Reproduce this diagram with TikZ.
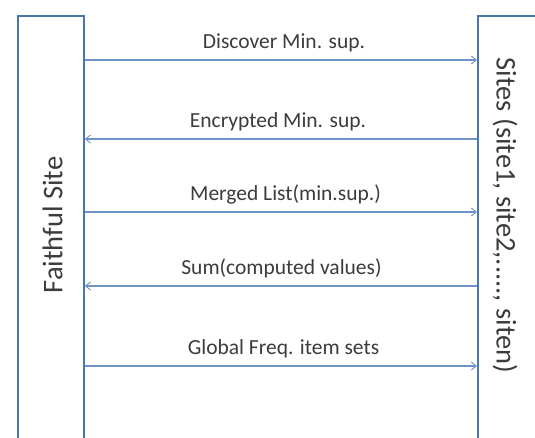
\documentclass[tikz,border=0pt]{standalone}
\usepackage{fontspec}
\setmainfont{Carlito}
\usetikzlibrary{arrows.meta}
\definecolor{boxblue}{HTML}{4A76B0}
\definecolor{arrblue}{HTML}{6E93C8}
\definecolor{txtgray}{HTML}{3C3C3C}
\tikzset{
  sitebox/.style={draw=boxblue, line width=1.8pt, fill=white, minimum width=66pt, minimum height=460pt, anchor=north west, inner sep=0pt},
  msg/.style={draw=arrblue, line width=1.1pt, -{Straight Barb[length=5pt,width=8pt,line width=0.9pt]}},
  msglabel/.style={text=txtgray, font=\fontsize{21.5}{24}\selectfont, inner sep=0pt, anchor=base},
  sidelabel/.style={text=txtgray, font=\fontsize{28.5}{32}\selectfont, inner sep=0pt}
}
\begin{document}
\begin{tikzpicture}[x=1pt,y=-1pt]
\useasboundingbox (0,0) rectangle (535,437);
\clip (0,0) rectangle (535,437);
\fill[white] (0,0) rectangle (535,437);
\node[sitebox] (fs) at (17,15) {};
\node[sitebox] (ss) at (477,15) {};
\node[sidelabel, rotate=90] (fsl) at (52.5,225) {Faithful Site};
\node[sidelabel, rotate=-90] (ssl) at (505,215.5) {Sites (site1, site2,....., siten)};
\coordinate (y1) at (0,60);
\coordinate (y2) at (0,139);
\coordinate (y3) at (0,212);
\coordinate (y4) at (0,286);
\coordinate (y5) at (0,366);
\draw[msg] (fs.east |- y1) -- (ss.west |- y1);
\draw[msg] (ss.west |- y2) -- (fs.east |- y2);
\draw[msg] (fs.east |- y3) -- (ss.west |- y3);
\draw[msg] (ss.west |- y4) -- (fs.east |- y4);
\draw[msg] (fs.east |- y5) -- (ss.west |- y5);
\node[msglabel] (l1) at (284,48) {Discover Min. sup.};
\node[msglabel] (l2) at (278,127) {Encrypted Min. sup.};
\node[msglabel] (l3) at (285.5,200) {Merged List(min.sup.)};
\node[msglabel] (l4) at (281.5,274) {Sum(computed values)};
\node[msglabel] (l5) at (283.5,354) {Global Freq. item sets};
\end{tikzpicture}
\end{document}
